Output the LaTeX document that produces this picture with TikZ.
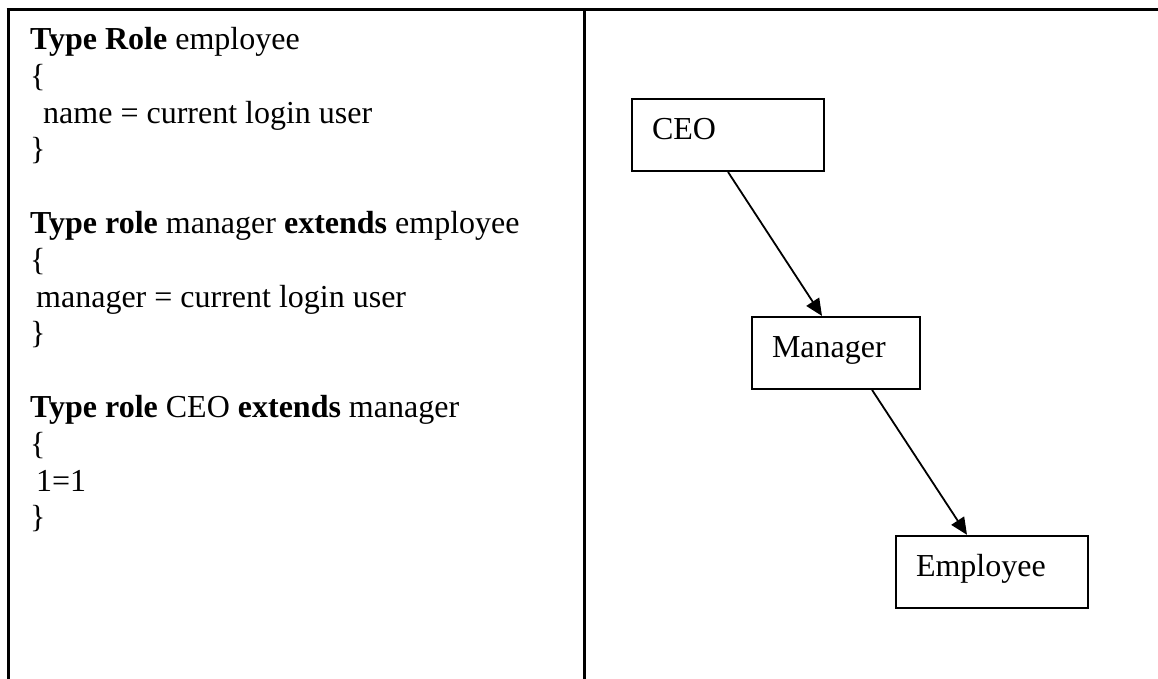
\documentclass[tikz,border=0pt]{standalone}
\usepackage{fontspec}
\setmainfont{Liberation Serif}
\usetikzlibrary{arrows.meta,positioning}

\begin{document}
\begin{tikzpicture}[x=1pt, y=-1pt,
  role/.style={draw, line width=1.9pt, minimum height=72pt, inner xsep=20pt,
               text height=22pt, text depth=12pt, align=left,
               font=\fontsize{32}{36.8}\selectfont},
  codetext/.style={anchor=north west, inner sep=0pt, align=left,
                   font=\fontsize{32}{36.8}\selectfont},
  arr/.style={-{Triangle[length=17pt,width=15pt]}, line width=1.8pt},
  tableline/.style={line width=3pt}
]
  \useasboundingbox (0,0) rectangle (1158,679);
  % table borders
  \draw[tableline] (6.5,10) -- (1158,10);
  \draw[tableline] (8,10) -- (8,679);
  \draw[tableline] (584,10) -- (584,679);
  % role definitions
  \node[codetext] (code) at (30,27) {%
    \textbf{Type Role} employee\\
    \{\\
    \hspace*{13pt}name = current login user\\
    \}\\[36.8pt]
    \textbf{Type role} manager \textbf{extends} employee\\
    \{\\
    \hspace*{6pt}manager = current login user\\
    \}\\[36.8pt]
    \textbf{Type role} CEO \textbf{extends} manager\\
    \{\\
    \hspace*{6pt}1=1\\
    \}};
  % role hierarchy
  \node[role, text width=152pt] (ceo) at (728,135) {CEO};
  \node[role, text width=128pt, below=144pt of ceo, xshift=108pt] (mgr) {Manager};
  \node[role, text width=152pt, below=145pt of mgr, xshift=156pt] (emp) {Employee};
  \draw[arr] (ceo.south) -- ([xshift=-14pt]mgr.north);
  \draw[arr] ([xshift=36pt]mgr.south) -- ([xshift=-25pt]emp.north);
\end{tikzpicture}
\end{document}
